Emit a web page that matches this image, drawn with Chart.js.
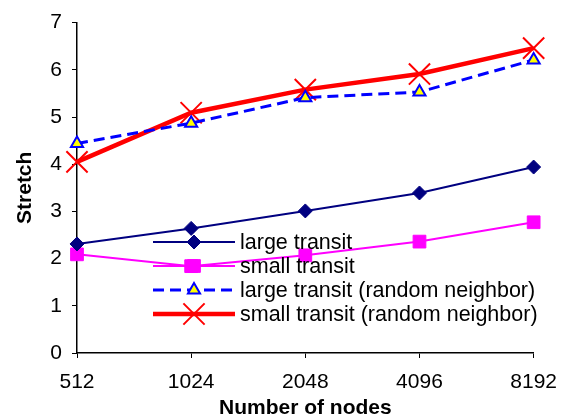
<!DOCTYPE html>
<html>
<head>
<meta charset="utf-8">
<script src="https://cdn.jsdelivr.net/npm/chart.js@4/dist/chart.umd.min.js"></script>
<style>
  html,body{margin:0;padding:0;background:#fff;}
  #wrap{width:569px;height:419px;}
</style>
</head>
<body>
<div id="wrap"><canvas id="chart" width="569" height="419"></canvas></div>
<script>
// ===== Data =====
const nodes = ["512","1024","2048","4096","8192"];
const largeTransit = [2.31, 2.64, 3.01, 3.39, 3.94];
const smallTransit = [2.09, 1.84, 2.07, 2.36, 2.77];
const largeRandom = [4.44, 4.87, 5.41, 5.53, 6.21];
const smallRandom = [4.05, 5.09, 5.58, 5.91, 6.46];
const yTicks = [0,1,2,3,4,5,6,7];

const FONT = "'Liberation Sans', Arial, sans-serif";

// ===== Legend drawn inside plot =====
const insideLegend = {
  id:'insideLegend',
  afterDraw(chart){
    const ctx = chart.ctx;
    const x0 = 153, x1 = 235, tx = 240;
    const rows = [242, 266, 290, 314];
    chart.data.datasets.forEach((ds,i)=>{
      const y = rows[i];
      ctx.save();
      ctx.strokeStyle = ds.borderColor;
      ctx.lineWidth = ds.borderWidth;
      ctx.setLineDash(ds.borderDash || []);
      ctx.beginPath();
      ctx.moveTo(x0,y); ctx.lineTo(x1,y);
      ctx.stroke();
      ctx.setLineDash([]);
      ctx.fillStyle = ds.pointBackgroundColor;
      ctx.strokeStyle = ds.pointBorderColor;
      ctx.lineWidth = ds.pointBorderWidth;
      Chart.helpers.drawPoint(ctx,{
        pointStyle:ds.pointStyle,
        radius:ds.pointRadius,
        rotation:0,
        borderWidth:ds.pointBorderWidth
      },(x0+x1)/2,y);
      ctx.fillStyle = '#000';
      ctx.font = "21.5px " + FONT;
      ctx.textBaseline = 'middle';
      ctx.fillText(ds.label, tx, y+1);
      ctx.restore();
    });
  }
};

const ctx = document.getElementById("chart").getContext("2d");
new Chart(ctx,{
  type:'line',
  data:{
    labels:nodes,
    datasets:[
      {
        label:'large transit',
        data:largeTransit,
        borderColor:'#000080',
        borderWidth:2,
        pointStyle:'rectRot',
        pointRadius:7,
        pointBackgroundColor:'#000080',
        pointBorderColor:'#000080',
        pointBorderWidth:1
      },
      {
        label:'small transit',
        data:smallTransit,
        borderColor:'#FF00FF',
        borderWidth:2,
        pointStyle:'rect',
        pointRadius:9,
        pointBackgroundColor:'#FF00FF',
        pointBorderColor:'#FF00FF',
        pointBorderWidth:1
      },
      {
        label:'large transit (random neighbor)',
        data:largeRandom,
        borderColor:'#0000FF',
        borderWidth:3,
        borderDash:[11,6],
        pointStyle:'triangle',
        pointRadius:7,
        pointBackgroundColor:'#FFFF00',
        pointBorderColor:'#0000FF',
        pointBorderWidth:2
      },
      {
        label:'small transit (random neighbor)',
        data:smallRandom,
        borderColor:'#FF0000',
        borderWidth:4.5,
        pointStyle:'crossRot',
        pointRadius:15,
        pointBackgroundColor:'#FF0000',
        pointBorderColor:'#FF0000',
        pointBorderWidth:2
      }
    ]
  },
  options:{
    responsive:false,
    animation:false,
    layout:{padding:{left:13,right:32,top:16,bottom:0}},
    plugins:{legend:{display:false},tooltip:{enabled:false}},
    scales:{
      x:{
        offset:false,
        afterFit(scale){scale.height = 66;},
        grid:{display:true,drawOnChartArea:false,color:'#000',tickLength:5},
        border:{display:true,color:'#000',width:1.5},
        ticks:{color:'#000',font:{family:FONT,size:21},padding:12,maxRotation:0},
        title:{display:true,text:'Number of nodes',color:'#000',font:{family:FONT,size:21,weight:'bold',lineHeight:1},padding:{top:0,bottom:0}}
      },
      y:{
        min:0,max:7,
        afterFit(scale){scale.width = 64;},
        afterBuildTicks(scale){scale.ticks = yTicks.map(v=>({value:v}));},
        grid:{display:true,drawOnChartArea:false,color:'#000',tickLength:5},
        border:{display:true,color:'#000',width:1.5},
        ticks:{color:'#000',font:{family:FONT,size:21},padding:10},
        title:{display:true,text:'Stretch',color:'#000',font:{family:FONT,size:21,weight:'bold'},padding:{top:0,bottom:0}}
      }
    }
  },
  plugins:[insideLegend]
});
</script>
</body>
</html>
